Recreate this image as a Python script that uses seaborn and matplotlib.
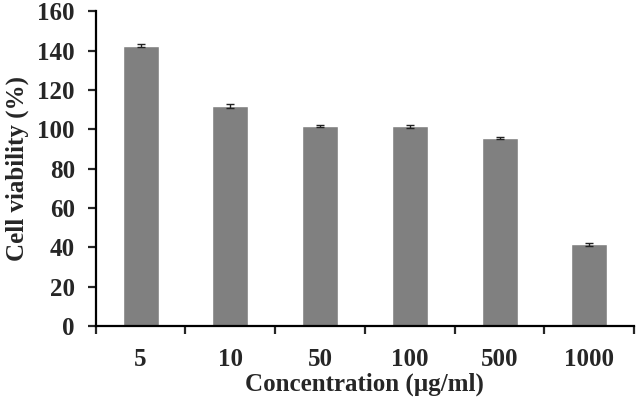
import numpy as np
import pandas as pd
import matplotlib
matplotlib.use('Agg')
import matplotlib.pyplot as plt
from matplotlib.ticker import FixedLocator
import seaborn as sns

# data
concentrations = ['5', '10', '50', '100', '500', '1000']
viability = [142.5, 111.8, 101.6, 101.6, 95.4, 41.6]
errors = [0.8, 0.8, 0.7, 0.8, 0.6, 0.7]

df = pd.DataFrame({'conc': concentrations, 'viability': viability})

sns.set_style('white')
plt.rcParams['font.family'] = ['Liberation Serif', 'DejaVu Serif']
plt.rcParams['font.weight'] = 'bold'

fig = plt.figure(figsize=(6.38, 3.99), dpi=100)
ax = fig.add_axes([0.150, 0.183, 0.844, 0.789])

sns.barplot(data=df, x='conc', y='viability', color='#808080', saturation=1,
            width=0.4, errorbar=None, ax=ax)
ax.errorbar(np.arange(len(concentrations)), viability, yerr=errors, fmt='none',
            ecolor='#222222', elinewidth=1, capsize=3, capthick=1)

ax.set_xlim(-0.5, len(concentrations) - 0.5)
ax.set_ylim(0, 160)
ax.set_yticks(range(0, 161, 20))
ax.xaxis.set_minor_locator(FixedLocator(np.arange(-0.5, len(concentrations), 1.0)))

for side in ['top', 'right']:
    ax.spines[side].set_visible(False)
for side in ['left', 'bottom']:
    ax.spines[side].set_linewidth(1.6)
    ax.spines[side].set_color('black')

ax.tick_params(axis='y', which='major', direction='out', length=6, width=1.6,
               left=True, labelsize=18, pad=9)
ax.tick_params(axis='x', which='major', length=0, labelsize=18, pad=16)
ax.tick_params(axis='x', which='minor', direction='out', length=6, width=1.6,
               bottom=True)
for lbl in ax.get_xticklabels() + ax.get_yticklabels():
    lbl.set_fontweight('bold')

ax.set_xlabel('Concentration (µg/ml)', fontsize=18, fontweight='bold', labelpad=1)
ax.set_ylabel('Cell viability (%)', fontsize=18, fontweight='bold', labelpad=6)

fig.savefig('out.png', dpi=100)
